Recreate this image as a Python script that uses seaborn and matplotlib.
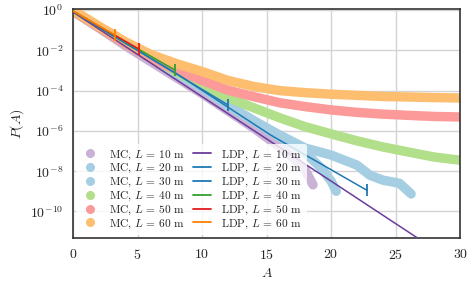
import numpy as np
import matplotlib
matplotlib.use("Agg")
import matplotlib.pyplot as plt
from matplotlib.lines import Line2D
import seaborn as sns

# Monte Carlo tail estimates P(A)
mc_10_A = [0, 2, 4, 6, 8, 10, 12, 14, 16, 17, 18, 18.6]
mc_10_P = [0.89, 1.3e-1, 1.8e-2, 2.8e-3, 4.5e-4, 7.1e-5, 1.0e-5, 1.4e-6, 1.6e-7, 5.0e-8, 1.1e-8, 2.1e-9]

mc_20_A = [0, 2, 4, 6, 8, 10, 12, 14, 16, 17.5, 18.5, 19.3, 20.0, 20.4]
mc_20_P = [0.89, 1.4e-1, 2.2e-2, 3.9e-3, 7.4e-4, 1.4e-4, 2.0e-5, 3.2e-6, 5.0e-7, 1.3e-7, 4.0e-8, 1.3e-8, 3.2e-9, 1.0e-9]

mc_30_A = [0, 2, 4, 6, 8, 10, 12, 14, 16, 18, 20, 22, 23, 24, 25.3, 26.2]
mc_30_P = [0.89, 1.4e-1, 2.2e-2, 3.9e-3, 7.9e-4, 1.4e-4, 1.8e-5, 3.2e-6, 6.3e-7, 1.4e-7, 6.3e-8, 2.0e-8, 6.3e-9, 3.6e-9, 2.5e-9, 7.4e-10]

mc_40_A = [0, 2, 4, 6, 8, 10, 12, 14, 16, 18, 20, 22, 24, 26, 28, 30]
mc_40_P = [0.89, 1.4e-1, 2.2e-2, 4.5e-3, 8.9e-4, 2.0e-4, 4.5e-5, 1.4e-5, 4.5e-6, 1.6e-6, 7.1e-7, 3.2e-7, 1.6e-7, 8.9e-8, 5.0e-8, 3.5e-8]

mc_50_A = [0, 2, 4, 6, 8, 10, 12, 14, 16, 18, 20, 22, 24, 26, 28, 30]
mc_50_P = [0.89, 1.4e-1, 2.2e-2, 4.0e-3, 1.1e-3, 3.2e-4, 1.05e-4, 5.0e-5, 2.5e-5, 1.6e-5, 1.1e-5, 8.3e-6, 6.8e-6, 5.9e-6, 5.2e-6, 4.9e-6]

mc_60_A = [0, 2, 4, 6, 8, 10, 12, 14, 16, 18, 20, 22, 24, 26, 28, 30]
mc_60_P = [1.0, 1.6e-1, 2.8e-2, 6.3e-3, 2.2e-3, 8.9e-4, 3.2e-4, 1.6e-4, 1.0e-4, 7.9e-5, 6.6e-5, 5.8e-5, 5.1e-5, 4.8e-5, 4.5e-5, 4.3e-5]

# Large-deviation (LDP) approximations
ldp_10_A = [0, 10, 20, 27.5]
ldp_10_P = [0.79, 5.0e-5, 3.2e-9, 2.2e-12]

ldp_20_A = [0, 8, 15.3, 22.8]
ldp_20_P = [0.83, 7.1e-4, 6.3e-7, 1.1e-9]

ldp_30_A = [0, 6, 12]
ldp_30_P = [0.83, 4.0e-3, 1.95e-5]

ldp_40_A = [0, 4, 7.9]
ldp_40_P = [0.89, 2.8e-2, 1.05e-3]

ldp_50_A = [0, 2.5, 5.15]
ldp_50_P = [0.89, 1.05e-1, 1.12e-2]

ldp_60_A = [0, 1.5, 3.26]
ldp_60_P = [0.89, 2.5e-1, 5.8e-2]

lengths = [10, 20, 30, 40, 50, 60]
mc_series = [(mc_10_A, mc_10_P), (mc_20_A, mc_20_P), (mc_30_A, mc_30_P),
             (mc_40_A, mc_40_P), (mc_50_A, mc_50_P), (mc_60_A, mc_60_P)]
ldp_series = [(ldp_10_A, ldp_10_P), (ldp_20_A, ldp_20_P), (ldp_30_A, ldp_30_P),
              (ldp_40_A, ldp_40_P), (ldp_50_A, ldp_50_P), (ldp_60_A, ldp_60_P)]

pal = sns.color_palette("Paired")
mc_colors = [pal[8], pal[0], pal[0], pal[2], pal[4], pal[6]]
ldp_colors = [pal[9], pal[1], pal[1], pal[3], pal[5], pal[7]]

sns.set_theme(style="whitegrid")
plt.rcParams.update({
    "font.family": "serif",
    "font.serif": ["cmr10"],
    "mathtext.fontset": "cm",
    "axes.formatter.use_mathtext": True,
    "axes.edgecolor": "#333333",
    "axes.linewidth": 1.2,
    "grid.color": "#d4d4d4",
    "grid.linewidth": 1.0,
    "xtick.labelsize": 10,
    "ytick.labelsize": 10,
    "axes.labelsize": 10,
})

fig = plt.figure(figsize=(4.71, 2.91), dpi=100)
ax = fig.add_axes([0.155, 0.182, 0.822, 0.787])
ax.set_yscale("log")

for (a, p), c in zip(mc_series, mc_colors):
    sns.lineplot(x=a, y=p, ax=ax, color=c, lw=6.8, solid_capstyle="round",
                 sort=False, legend=False, zorder=2)

for i, ((a, p), c) in enumerate(zip(ldp_series, ldp_colors)):
    kw = {} if i == 0 else dict(marker="|", markevery=[len(a) - 1], markersize=8,
                                mew=1.3, markeredgecolor=c, markerfacecolor=c)
    sns.lineplot(x=a, y=p, ax=ax, color=c, lw=1.1, sort=False, legend=False,
                 zorder=3, **kw)

ax.set_xlim(0, 30)
ax.set_ylim(10 ** -11.32, 10 ** 0.05)
ax.set_xticks([0, 5, 10, 15, 20, 25, 30])
ax.set_yticks([1e0, 1e-2, 1e-4, 1e-6, 1e-8, 1e-10])
ax.yaxis.set_minor_locator(matplotlib.ticker.NullLocator())
ax.tick_params(length=0, pad=7)
ax.set_xlabel("$A$", labelpad=4)
ax.set_ylabel("$P(A)$", labelpad=3)

handles = [Line2D([], [], ls="", marker="o", markersize=5.5, color=c) for c in mc_colors]
handles += [Line2D([], [], lw=1.3, color=c) for c in ldp_colors]
labels = ([f"MC, $L\\,=\\,{l}$ m" for l in lengths]
          + [f"LDP, $L\\,=\\,{l}$ m" for l in lengths])
leg = ax.legend(handles, labels, loc="lower left", ncol=2, fontsize=8.2,
                frameon=True, framealpha=0.8, edgecolor="none",
                labelspacing=0.04, columnspacing=0.7, handlelength=1.6,
                handletextpad=0.9, borderaxespad=0.25)

fig.savefig("out.png", dpi=100)
